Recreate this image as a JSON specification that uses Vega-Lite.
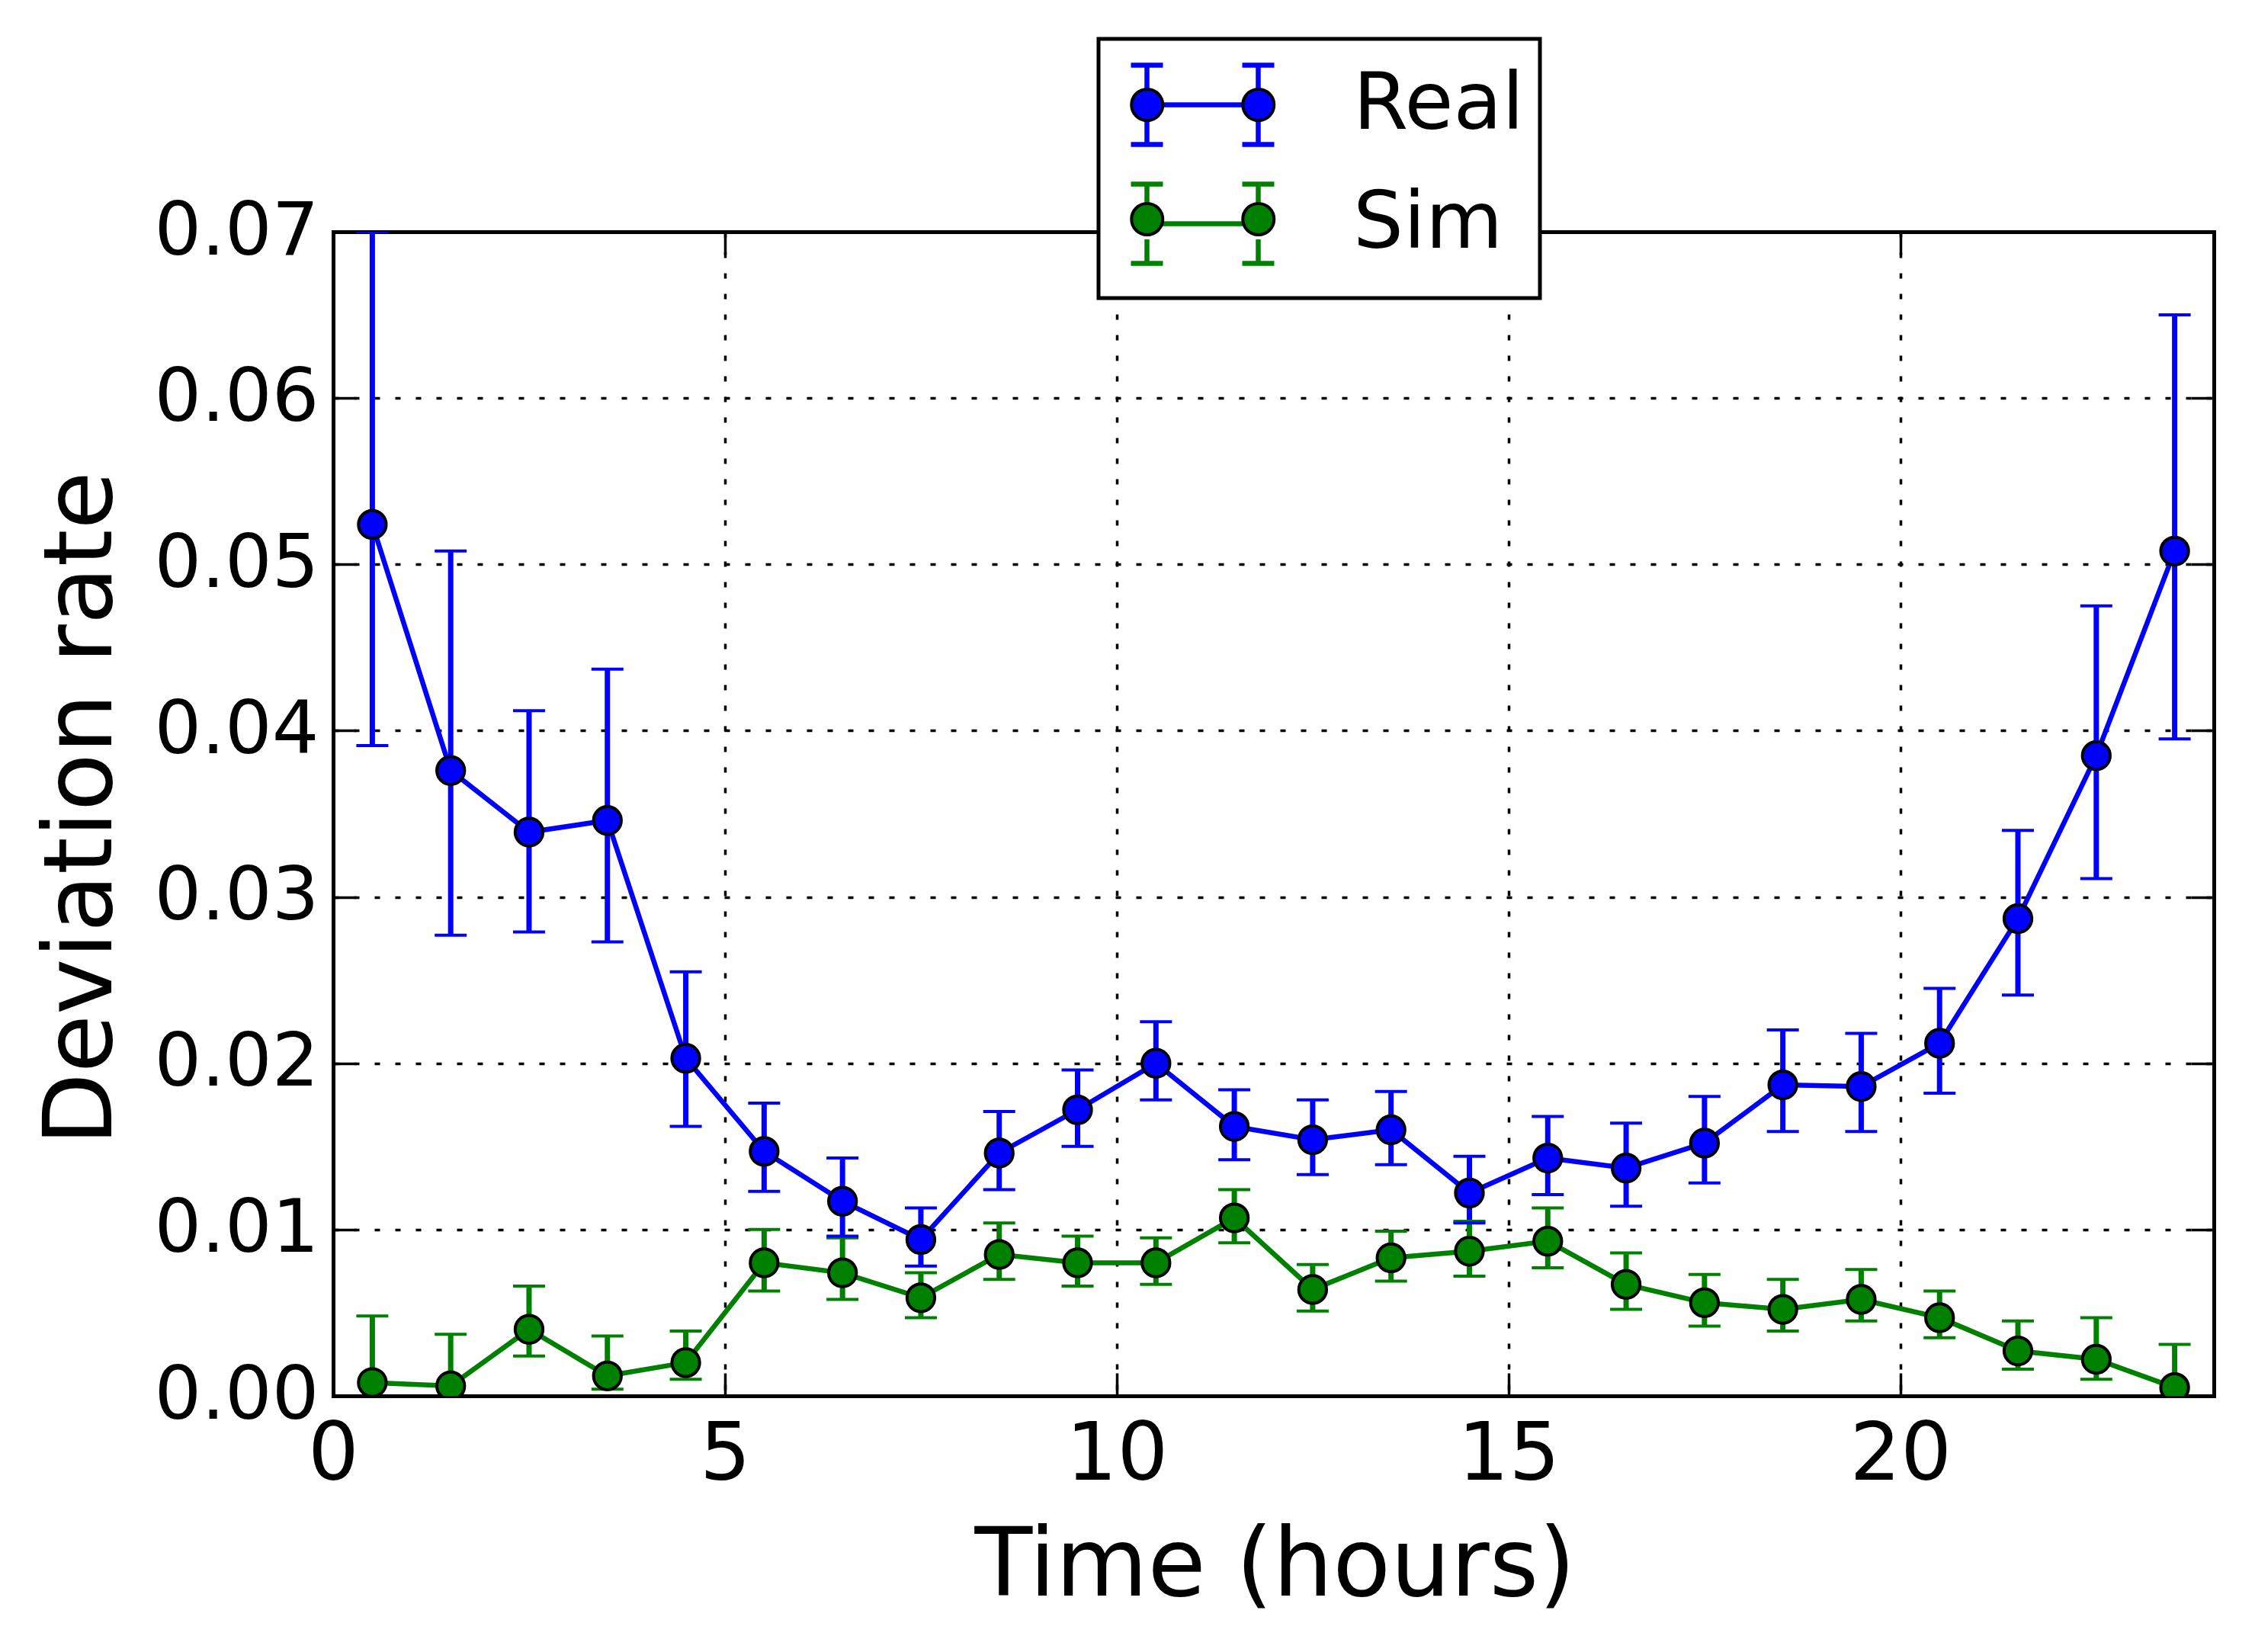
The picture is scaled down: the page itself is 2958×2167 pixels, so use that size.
{
  "$schema": "https://vega.github.io/schema/vega-lite/v6.json",
  "width": 2467,
  "height": 1527,
  "autosize": {"type": "none"},
  "padding": {"left": 437, "top": 304, "right": 54, "bottom": 336},
  "background": "white",
  "config": {"view": {"stroke": null}, "font": "DejaVu Sans", "legend": {"strokeWidth": 5}},
  "data": {
    "values": [
      {"t": 0.5, "series": "Real", "value": 0.0524, "lower": 0.0391, "upper": 0.0700},
      {"t": 1.5, "series": "Real", "value": 0.0376, "lower": 0.0277, "upper": 0.0508},
      {"t": 2.5, "series": "Real", "value": 0.0339, "lower": 0.0279, "upper": 0.0412},
      {"t": 3.5, "series": "Real", "value": 0.0346, "lower": 0.0273, "upper": 0.0437},
      {"t": 4.5, "series": "Real", "value": 0.0203, "lower": 0.0162, "upper": 0.0255},
      {"t": 5.5, "series": "Real", "value": 0.0147, "lower": 0.0123, "upper": 0.0176},
      {"t": 6.5, "series": "Real", "value": 0.0117, "lower": 0.0096, "upper": 0.0143},
      {"t": 7.5, "series": "Real", "value": 0.0094, "lower": 0.0078, "upper": 0.0113},
      {"t": 8.5, "series": "Real", "value": 0.0146, "lower": 0.0124, "upper": 0.0171},
      {"t": 9.5, "series": "Real", "value": 0.0172, "lower": 0.0150, "upper": 0.0196},
      {"t": 10.5, "series": "Real", "value": 0.0200, "lower": 0.0178, "upper": 0.0225},
      {"t": 11.5, "series": "Real", "value": 0.0162, "lower": 0.0142, "upper": 0.0184},
      {"t": 12.5, "series": "Real", "value": 0.0154, "lower": 0.0133, "upper": 0.0178},
      {"t": 13.5, "series": "Real", "value": 0.0160, "lower": 0.0139, "upper": 0.0183},
      {"t": 14.5, "series": "Real", "value": 0.0122, "lower": 0.0104, "upper": 0.0144},
      {"t": 15.5, "series": "Real", "value": 0.0143, "lower": 0.0121, "upper": 0.0168},
      {"t": 16.5, "series": "Real", "value": 0.0137, "lower": 0.0114, "upper": 0.0164},
      {"t": 17.5, "series": "Real", "value": 0.0152, "lower": 0.0128, "upper": 0.0180},
      {"t": 18.5, "series": "Real", "value": 0.0187, "lower": 0.0159, "upper": 0.0220},
      {"t": 19.5, "series": "Real", "value": 0.0186, "lower": 0.0159, "upper": 0.0218},
      {"t": 20.5, "series": "Real", "value": 0.0212, "lower": 0.0182, "upper": 0.0245},
      {"t": 21.5, "series": "Real", "value": 0.0287, "lower": 0.0241, "upper": 0.0340},
      {"t": 22.5, "series": "Real", "value": 0.0385, "lower": 0.0311, "upper": 0.0475},
      {"t": 23.5, "series": "Real", "value": 0.0508, "lower": 0.0395, "upper": 0.0650},
      {"t": 0.5, "series": "Sim", "value": 0.0008, "lower": -0.0030, "upper": 0.0048},
      {"t": 1.5, "series": "Sim", "value": 0.0006, "lower": -0.0025, "upper": 0.0037},
      {"t": 2.5, "series": "Sim", "value": 0.0040, "lower": 0.0024, "upper": 0.0066},
      {"t": 3.5, "series": "Sim", "value": 0.0012, "lower": 0.0004, "upper": 0.0036},
      {"t": 4.5, "series": "Sim", "value": 0.0020, "lower": 0.0010, "upper": 0.0039},
      {"t": 5.5, "series": "Sim", "value": 0.0080, "lower": 0.0063, "upper": 0.0100},
      {"t": 6.5, "series": "Sim", "value": 0.0074, "lower": 0.0058, "upper": 0.0095},
      {"t": 7.5, "series": "Sim", "value": 0.0059, "lower": 0.0047, "upper": 0.0074},
      {"t": 8.5, "series": "Sim", "value": 0.0085, "lower": 0.0070, "upper": 0.0104},
      {"t": 9.5, "series": "Sim", "value": 0.0080, "lower": 0.0066, "upper": 0.0096},
      {"t": 10.5, "series": "Sim", "value": 0.0080, "lower": 0.0067, "upper": 0.0095},
      {"t": 11.5, "series": "Sim", "value": 0.0107, "lower": 0.0092, "upper": 0.0124},
      {"t": 12.5, "series": "Sim", "value": 0.0064, "lower": 0.0051, "upper": 0.0079},
      {"t": 13.5, "series": "Sim", "value": 0.0083, "lower": 0.0069, "upper": 0.0099},
      {"t": 14.5, "series": "Sim", "value": 0.0087, "lower": 0.0072, "upper": 0.0105},
      {"t": 15.5, "series": "Sim", "value": 0.0093, "lower": 0.0077, "upper": 0.0113},
      {"t": 16.5, "series": "Sim", "value": 0.0067, "lower": 0.0052, "upper": 0.0086},
      {"t": 17.5, "series": "Sim", "value": 0.0056, "lower": 0.0042, "upper": 0.0073},
      {"t": 18.5, "series": "Sim", "value": 0.0052, "lower": 0.0039, "upper": 0.0070},
      {"t": 19.5, "series": "Sim", "value": 0.0058, "lower": 0.0045, "upper": 0.0076},
      {"t": 20.5, "series": "Sim", "value": 0.0047, "lower": 0.0035, "upper": 0.0063},
      {"t": 21.5, "series": "Sim", "value": 0.0027, "lower": 0.0016, "upper": 0.0045},
      {"t": 22.5, "series": "Sim", "value": 0.0022, "lower": 0.0010, "upper": 0.0047},
      {"t": 23.5, "series": "Sim", "value": 0.0005, "lower": -0.0025, "upper": 0.0031}
    ]
  },
  "resolve": {"axis": {"x": "independent", "y": "independent"}},
  "layer": [
    {
      "mark": {"type": "line", "strokeWidth": 6.5},
      "encoding": {
        "x": {
          "field": "t", "type": "quantitative",
          "scale": {"domain": [0, 24], "nice": false, "zero": false},
          "axis": {
            "orient": "bottom", "values": [0, 5, 10, 15, 20], "format": "d",
            "grid": true, "gridColor": "black", "gridDash": [7, 20], "gridWidth": 3.5, "gridOpacity": 1,
            "domain": true, "domainColor": "black", "domainWidth": 5, "domainCap": "square",
            "ticks": true, "tickSize": -30, "tickWidth": 3.5, "tickColor": "black",
            "labelFont": "DejaVu Sans", "labelFontSize": 105, "labelColor": "black", "labelPadding": 56, "labelLimit": 400,
            "labelFlush": false, "labelOverlap": false,
            "title": "Time (hours)", "titleFont": "DejaVu Sans", "titleFontSize": 124, "titleFontWeight": "normal",
            "titleColor": "black", "titleBaseline": "alphabetic", "titleX": 1235, "titleY": 261,
            "zindex": 0
          }
        },
        "y": {
          "field": "value", "type": "quantitative",
          "scale": {"domain": [0, 0.07], "nice": false, "zero": false},
          "axis": {
            "orient": "left", "values": [0, 0.01, 0.02, 0.03, 0.04, 0.05, 0.06, 0.07], "format": ".2f",
            "grid": true, "gridColor": "black", "gridDash": [7, 20], "gridWidth": 3.5, "gridOpacity": 1,
            "domain": true, "domainColor": "black", "domainWidth": 5, "domainCap": "square",
            "ticks": true, "tickSize": -30, "tickWidth": 3.5, "tickColor": "black",
            "labelFont": "DejaVu Sans", "labelFontSize": 97, "labelColor": "black", "labelPadding": 49, "labelLimit": 400,
            "labelFlush": false, "labelOverlap": false,
            "title": "Deviation rate", "titleFont": "DejaVu Sans", "titleFontSize": 124, "titleFontWeight": "normal",
            "titleColor": "black", "titleBaseline": "alphabetic", "titleX": -292, "titleY": 756, "titleAngle": -90,
            "zindex": 0
          }
        },
        "stroke": {
          "field": "series", "type": "nominal",
          "scale": {"range": ["#0000ff", "#008000"]},
          "legend": {
            "title": null, "orient": "none", "legendX": 1004, "legendY": -253, "direction": "vertical",
            "symbolType": "M-2.055,0 M0,1.012 M-0.83,0L0.83,0 M-1.1542,-0.8221L-1.1542,-0.3241 M-1.1542,0.3241L-1.1542,0.8221 M1.1542,-0.8221L1.1542,-0.3241 M1.1542,0.3241L1.1542,0.8221 M-1.4862,-0.8221L-0.8222,-0.8221 M-1.4862,0.8221L-0.8222,0.8221 M0.8222,-0.8221L1.4862,-0.8221 M0.8222,0.8221L1.4862,0.8221",
            "symbolSize": 16000, "symbolOffset": 50, "symbolStrokeWidth": 6.5, "symbolFillColor": "transparent", "symbolOpacity": 1,
            "labelFont": "DejaVu Sans", "labelFontSize": 104, "labelColor": "black", "labelOffset": 131, "labelLimit": 0,
            "rowPadding": 12, "padding": 20,
            "fillColor": "white", "strokeColor": "black", "cornerRadius": 0,
            "zindex": 2
          }
        }
      }
    },
    {
      "mark": {"type": "rule", "strokeWidth": 7, "clip": true},
      "encoding": {
        "x": {
          "field": "t", "type": "quantitative",
          "axis": {
            "orient": "top", "values": [0, 5, 10, 15, 20], "labels": false, "title": null, "grid": false,
            "domain": true, "domainColor": "black", "domainWidth": 5, "domainCap": "square",
            "ticks": true, "tickSize": -30, "tickWidth": 3.5, "tickColor": "black", "zindex": 0
          }
        },
        "y": {
          "field": "lower", "type": "quantitative",
          "axis": {
            "orient": "right", "values": [0, 0.01, 0.02, 0.03, 0.04, 0.05, 0.06, 0.07], "labels": false, "title": null, "grid": false,
            "domain": true, "domainColor": "black", "domainWidth": 5, "domainCap": "square",
            "ticks": true, "tickSize": -30, "tickWidth": 3.5, "tickColor": "black", "zindex": 0
          }
        },
        "y2": {"field": "upper"},
        "stroke": {"field": "series", "type": "nominal"}
      }
    },
    {
      "mark": {"type": "tick", "orient": "horizontal", "size": 42, "thickness": 4, "clip": true, "opacity": 1},
      "encoding": {
        "x": {"field": "t", "type": "quantitative", "axis": null},
        "y": {"field": "upper", "type": "quantitative", "axis": null},
        "fill": {"field": "series", "type": "nominal"}
      }
    },
    {
      "mark": {"type": "tick", "orient": "horizontal", "size": 42, "thickness": 4, "clip": true, "opacity": 1},
      "encoding": {
        "x": {"field": "t", "type": "quantitative", "axis": null},
        "y": {"field": "lower", "type": "quantitative", "axis": null},
        "fill": {"field": "series", "type": "nominal"}
      }
    },
    {
      "mark": {"type": "point", "filled": true, "shape": "circle", "size": 1320, "stroke": "black", "strokeWidth": 4, "opacity": 1, "clip": true},
      "encoding": {
        "x": {"field": "t", "type": "quantitative", "axis": null},
        "y": {"field": "value", "type": "quantitative", "axis": null},
        "fill": {
          "field": "series", "type": "nominal",
          "scale": {"domain": ["Real", "Sim"], "range": ["#0000ff", "#008000"]},
          "legend": {
            "title": null, "orient": "none", "legendX": 1004, "legendY": -253, "direction": "vertical",
            "symbolType": "M-2.055,0 M0,1.012 M-0.83,0A0.3241,0.3241,0,1,1,-1.4783,0A0.3241,0.3241,0,1,1,-0.83,0Z M1.4783,0A0.3241,0.3241,0,1,1,0.83,0A0.3241,0.3241,0,1,1,1.4783,0Z",
            "symbolSize": 16000, "symbolOffset": 50.25, "symbolStrokeColor": "black", "symbolStrokeWidth": 4, "symbolOpacity": 1,
            "labelFont": "DejaVu Sans", "labelFontSize": 104, "labelColor": "black", "labelOffset": 131, "labelLimit": 0,
            "labelExpr": "''",
            "rowPadding": 12, "padding": 21,
            "zindex": 3
          }
        }
      }
    }
  ]
}
